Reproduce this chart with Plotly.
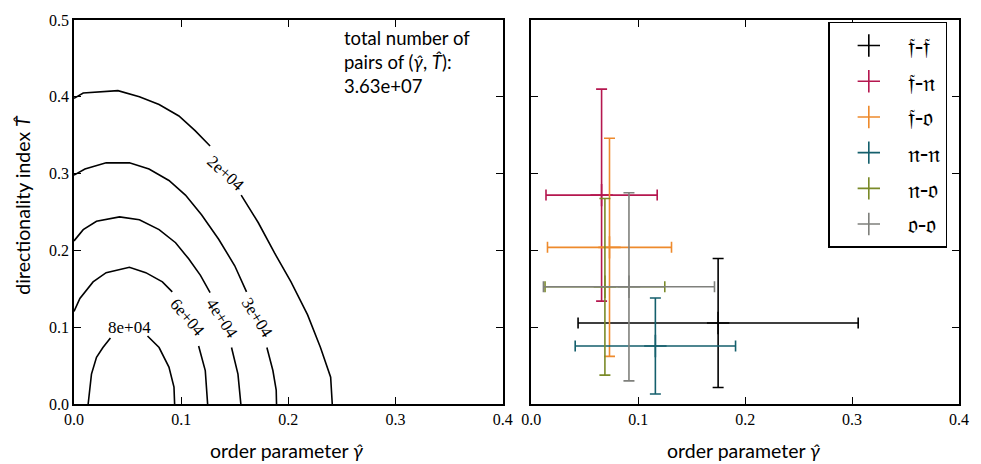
import plotly.graph_objects as go

# ---------------- data: left panel (contour lines of pair counts) ----------------
level_labels = ["2e+04", "3e+04", "4e+04", "6e+04", "8e+04"]

c20k_gamma = [0.0, 0.0086, 0.041, 0.061, 0.0794, 0.0979, 0.113, 0.127, None,
              0.156, 0.172, 0.187, 0.2025, 0.218, 0.230, 0.2395, 0.241]
c20k_T = [0.398, 0.405, 0.408, 0.400, 0.390, 0.375, 0.356, 0.336, None,
          0.272, 0.236, 0.197, 0.159, 0.116, 0.0735, 0.035, 0.0]

c30k_gamma = [0.0, 0.0102, 0.030, 0.0517, 0.070, 0.0886, 0.104, 0.119, 0.135, 0.150, 0.161, None,
              0.180, 0.1856, 0.1887, 0.189]
c30k_T = [0.298, 0.306, 0.314, 0.314, 0.306, 0.291, 0.272, 0.2465, 0.2145, 0.180, 0.146, None,
          0.0735, 0.0436, 0.018, 0.0]

c40k_gamma = [0.0, 0.0086, 0.021, 0.0425, 0.061, 0.0794, 0.0948, 0.107, 0.118, 0.127, None,
              0.147, 0.153, 0.1557]
c40k_T = [0.2124, 0.227, 0.238, 0.2436, 0.240, 0.227, 0.210, 0.189, 0.1675, 0.145, None,
          0.0735, 0.039, 0.0]

c60k_gamma = [0.0, 0.0055, 0.0178, 0.030, 0.0517, 0.067, 0.0825, 0.0917, None,
              0.1163, 0.1225, 0.1247]
c60k_T = [0.1205, 0.1375, 0.159, 0.171, 0.178, 0.171, 0.159, 0.146, None,
          0.0756, 0.0436, 0.0]

c80k_gamma = [0.0132, 0.0163, 0.021, 0.027, 0.034, None, 0.0686, 0.0794, 0.0886, 0.0933, 0.0939]
c80k_T = [0.0, 0.039, 0.0607, 0.0735, 0.086, None, 0.0885, 0.0735, 0.048, 0.022, 0.0]

label_gamma = [0.1416, 0.171, 0.138, 0.106, 0.0517]
label_T = [0.300, 0.113, 0.111, 0.113, 0.100]
label_angle = [42, 58, 57, 50, 0]

total_pairs = "3.63e+07"

# ---------------- data: right panel (mean ± spread per pair type) ----------------
pair_types = ["\U0001D523-\U0001D523", "\U0001D523-\U0001D52B", "\U0001D523-\U0001D52C",
              "\U0001D52B-\U0001D52B", "\U0001D52B-\U0001D52C", "\U0001D52C-\U0001D52C"]
gamma_mean = [0.1747, 0.0657, 0.0731, 0.1160, 0.0688, 0.0913]
gamma_err = [0.131, 0.052, 0.058, 0.075, 0.056, 0.080]
T_mean = [0.1055, 0.272, 0.204, 0.0756, 0.1526, 0.1526]
T_err = [0.084, 0.138, 0.142, 0.0625, 0.115, 0.1225]
pair_colors = ["#000000", "#b5174f", "#ee8a2c", "#145f6c", "#7a8a28", "#7f807c"]

x_ticks = [0.0, 0.1, 0.2, 0.3, 0.4]
y_ticks = [0.0, 0.1, 0.2, 0.3, 0.4, 0.5]

# ---------------- figure ----------------
W, H = 981, 464
ML, MR, MT, MB = 74, 13, 14, 60
PW = W - ML - MR
PH = H - MT - MB

TEXT_FONT = "Lato"
NUM_FONT = "Liberation Serif"

fig = go.Figure()

contours = [(c20k_gamma, c20k_T), (c30k_gamma, c30k_T), (c40k_gamma, c40k_T),
            (c60k_gamma, c60k_T), (c80k_gamma, c80k_T)]
for g, t in contours:
    fig.add_trace(go.Scatter(x=g, y=t, mode="lines", line=dict(color="black", width=1.6),
                             showlegend=False, hoverinfo="skip", xaxis="x", yaxis="y",
                             connectgaps=False))

for i, name in enumerate(pair_types):
    fig.add_trace(go.Scatter(
        x=[gamma_mean[i]], y=[T_mean[i]], name=name, mode="markers",
        marker=dict(symbol="cross-thin", size=16, color=pair_colors[i],
                    line=dict(color=pair_colors[i], width=1.6)),
        error_x=dict(type="data", array=[gamma_err[i]], color=pair_colors[i],
                     thickness=1.6, width=5.5),
        error_y=dict(type="data", array=[T_err[i]], color=pair_colors[i],
                     thickness=1.6, width=5.5),
        xaxis="x2", yaxis="y2", legendgroup=name,
    ))

axis_common = dict(
    range=[0, 0.4], tickvals=x_ticks, ticktext=[f"{v:.1f}" for v in x_ticks],
    showline=True, linecolor="black", linewidth=1.5, mirror="ticks",
    ticks="inside", ticklen=7, tickwidth=1.2, tickcolor="black",
    showgrid=False, zeroline=False, fixedrange=True,
    tickfont=dict(family=NUM_FONT, size=16, color="black"),
)
yaxis_common = dict(
    range=[0, 0.5], tickvals=y_ticks,
    showline=True, linecolor="black", linewidth=1.5, mirror="ticks",
    ticks="inside", ticklen=7, tickwidth=1.2, tickcolor="black",
    showgrid=False, zeroline=False, fixedrange=True,
    tickfont=dict(family=NUM_FONT, size=16, color="black"),
)

left_dom = [0, (507 - ML) / PW]
right_dom = [(536 - ML) / PW, 1.0]

fig.update_layout(
    width=W, height=H,
    margin=dict(l=ML, r=MR, t=MT, b=MB),
    paper_bgcolor="white", plot_bgcolor="white",
    xaxis=dict(domain=left_dom, anchor="y", **axis_common),
    yaxis=dict(domain=[0, 1], anchor="x", ticktext=[f"{v:.1f}" for v in y_ticks], **yaxis_common),
    xaxis2=dict(domain=right_dom, anchor="y2", **axis_common),
    yaxis2=dict(domain=[0, 1], anchor="x2", showticklabels=False, **yaxis_common),
    showlegend=True,
    legend=dict(x=(836 - ML) / PW, y=1 - (16 - MT) / PH, xanchor="left", yanchor="top",
                bordercolor="black", borderwidth=1.5, bgcolor="white",
                font=dict(family="DejaVu Sans", size=24, color="black"),
                tracegroupgap=1.5, traceorder="grouped", itemwidth=68),
)

# contour labels
for i, lab in enumerate(level_labels):
    fig.add_annotation(x=label_gamma[i], y=label_T[i], xref="x", yref="y", text=lab,
                       showarrow=False, textangle=label_angle[i],
                       font=dict(family=NUM_FONT, size=17, color="black"))

# total-count text
fig.add_annotation(x=0.25, y=0.493, xref="x", yref="y", xanchor="left", yanchor="top",
                   align="left", showarrow=False,
                   text=f"total number of<br>pairs of (<i>γ̂</i>, <i>T̂</i>):<br>{total_pairs}",
                   font=dict(family=TEXT_FONT, size=18.5, color="black"))

# axis titles
fig.add_annotation(x=(289 - ML) / PW, y=-(451 - 404) / PH, xref="paper", yref="paper",
                   text="order parameter <i>γ̂</i>", showarrow=False,
                   xanchor="center", yanchor="middle",
                   font=dict(family=TEXT_FONT, size=19.5, color="black"))
fig.add_annotation(x=(751 - ML) / PW, y=-(451 - 404) / PH, xref="paper", yref="paper",
                   text="order parameter <i>γ̂</i>", showarrow=False,
                   xanchor="center", yanchor="middle",
                   font=dict(family=TEXT_FONT, size=19.5, color="black"))
fig.add_annotation(x=-(74 - 22) / PW, y=(404 - 202) / PH, xref="paper", yref="paper",
                   text="directionality index <i>T̂</i>", showarrow=False, textangle=-90,
                   xanchor="center", yanchor="middle",
                   font=dict(family=TEXT_FONT, size=19.5, color="black"))

fig.write_html("out.html", config={"displayModeBar": False},
               post_script="document.body.style.margin='0px';document.body.style.overflow='hidden';")
